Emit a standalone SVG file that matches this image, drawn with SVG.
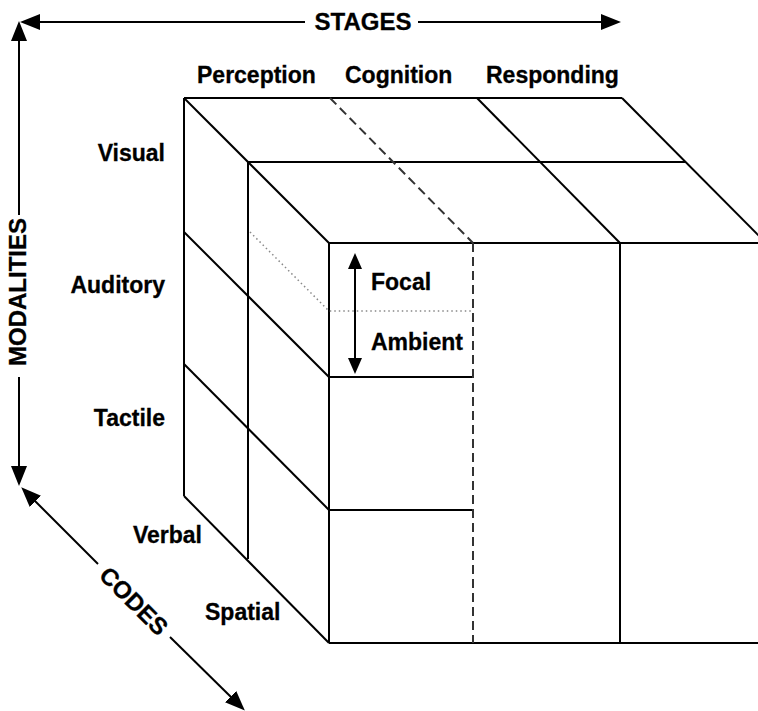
<svg xmlns="http://www.w3.org/2000/svg" width="758" height="711" viewBox="0 0 758 711">
<style>
  .ln { stroke:#000; stroke-width:2; fill:none; stroke-linecap:butt; }
  .dash { stroke:#333; stroke-width:2; fill:none; stroke-dasharray:9 5; }
  .dot { stroke:#888; stroke-width:1.5; fill:none; stroke-dasharray:1.5 3; }
  .ax { stroke:#000; stroke-width:2; fill:none; }
  .lbl { font-family:"Liberation Sans", Arial, sans-serif; font-weight:bold; font-size:23px; fill:#000; stroke:#000; stroke-width:0.3; }
  .axl { font-family:"Liberation Sans", Arial, sans-serif; font-weight:bold; font-size:24px; fill:#000; stroke:#000; stroke-width:0.3; }
</style>
<defs>
  <marker id="ah" viewBox="0 0 20 16" refX="2" refY="8" markerWidth="20" markerHeight="16" orient="auto" markerUnits="userSpaceOnUse">
    <path d="M0,0 L20,8 L0,16 z" fill="#000"/>
  </marker>
  <marker id="sh" viewBox="0 0 16 14" refX="2" refY="7" markerWidth="16" markerHeight="14" orient="auto" markerUnits="userSpaceOnUse">
    <path d="M0,0 L16,7 L0,14 z" fill="#000"/>
  </marker>
</defs>
<rect width="758" height="711" fill="#fff"/>

<g id="cube">
  <!-- top face -->
  <line class="ln" x1="184" y1="98" x2="622" y2="98"/>
  <line class="ln" x1="248" y1="162" x2="686" y2="162"/>
  <line class="ln" x1="329" y1="243" x2="758" y2="243"/>
  <line class="ln" x1="184" y1="98" x2="329" y2="243"/>
  <line class="dash" x1="330" y1="98" x2="473" y2="243"/>
  <line class="ln" x1="477" y1="98" x2="620" y2="243"/>
  <line class="ln" x1="622" y1="98" x2="768" y2="245"/>
  <!-- left face -->
  <line class="ln" x1="184" y1="98" x2="184" y2="496"/>
  <line class="ln" x1="248" y1="162" x2="248" y2="559"/>
  <line class="ln" x1="329" y1="243" x2="329" y2="643"/>
  <line class="ln" x1="184" y1="232" x2="329" y2="377"/>
  <line class="ln" x1="184" y1="364" x2="329" y2="510"/>
  <line class="ln" x1="184" y1="496" x2="329" y2="643"/>
  <!-- front face -->
  <line class="ln" x1="329" y1="377" x2="473" y2="377"/>
  <line class="ln" x1="329" y1="510" x2="473" y2="510"/>
  <line class="ln" x1="329" y1="643" x2="758" y2="643"/>
  <line class="dash" x1="473" y1="243" x2="473" y2="643"/>
  <line class="ln" x1="620" y1="243" x2="620" y2="643"/>
  <!-- focal / ambient split -->
  <polyline class="dot" points="250,232 329,311 473,311"/>
</g>

<g id="connectors">
  <line class="ax" x1="305" y1="22" x2="38" y2="22" marker-end="url(#ah)"/>
  <line class="ax" x1="418" y1="22" x2="603" y2="22" marker-end="url(#ah)"/>
  <line class="ax" x1="19" y1="215" x2="19" y2="39" marker-end="url(#ah)"/>
  <line class="ax" x1="19" y1="377" x2="19" y2="468" marker-end="url(#ah)"/>
  <line class="ax" x1="98" y1="564" x2="34" y2="500" marker-end="url(#ah)"/>
  <line class="ax" x1="170" y1="637" x2="232" y2="698" marker-end="url(#ah)"/>
  <line class="ax" x1="355" y1="300" x2="355" y2="267" marker-end="url(#sh)"/>
  <line class="ax" x1="355" y1="300" x2="355" y2="360" marker-end="url(#sh)"/>
</g>

<g id="axis-labels">
  <text class="axl" x="363" y="30" text-anchor="middle">STAGES</text>
  <text class="axl" x="26" y="292" text-anchor="middle" transform="rotate(-90 26 292)">MODALITIES</text>
  <text class="axl" x="128" y="607" text-anchor="middle" transform="rotate(45 128 607)">CODES</text>
</g>

<g id="stage-labels">
  <text class="lbl" x="197" y="83">Perception</text>
  <text class="lbl" x="345" y="83">Cognition</text>
  <text class="lbl" x="486" y="83">Responding</text>
</g>
<g id="modality-labels">
  <text class="lbl" x="165" y="161" text-anchor="end">Visual</text>
  <text class="lbl" x="165" y="293" text-anchor="end">Auditory</text>
  <text class="lbl" x="165" y="426" text-anchor="end">Tactile</text>
</g>
<g id="code-labels">
  <text class="lbl" x="202" y="543" text-anchor="end">Verbal</text>
  <text class="lbl" x="205" y="620">Spatial</text>
</g>
<g id="visual-labels">
  <text class="lbl" x="371" y="290">Focal</text>
  <text class="lbl" x="371" y="350">Ambient</text>
</g>
</svg>
